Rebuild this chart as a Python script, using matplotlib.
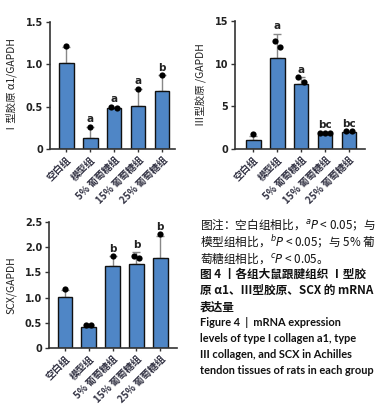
import matplotlib
matplotlib.use("Agg")
import matplotlib.pyplot as plt
import numpy as np

plt.rcParams['font.family'] = ['Noto Sans CJK SC', 'DejaVu Sans']
plt.rcParams['mathtext.fontset'] = 'dejavusans'

groups = ["空白组", "模型组", "5% 葡萄糖组", "15% 葡萄糖组", "25% 葡萄糖组"]

col1_mean = [1.01, 0.13, 0.48, 0.51, 0.68]
col1_err = [0.20, 0.13, 0.02, 0.20, 0.19]
col1_pts = [[1.22], [0.26], [0.50, 0.49], [0.71], [0.87]]
col1_sig = ["", "a", "a", "a", "b"]

col3_mean = [1.1, 10.7, 7.6, 1.8, 2.0]
col3_err = [0.45, 2.8, 0.8, 0.1, 0.1]
col3_pts = [[1.7], [12.7, 12.0], [8.4, 7.9], [1.9, 1.9, 1.9], [2.1, 2.1]]
col3_sig = ["", "a", "a", "bc", "bc"]

scx_mean = [1.01, 0.42, 1.63, 1.66, 1.78]
scx_err = [0.14, 0.03, 0.20, 0.24, 0.44]
scx_pts = [[1.18], [0.46, 0.46], [1.83], [1.82, 1.79], [2.27]]
scx_sig = ["", "", "b", "b", "b"]

W, H = 385, 417
fig = plt.figure(figsize=(W / 100, H / 100), dpi=100)

bar_color = "#4f86c6"
dark = "#222222"


def panel(rect, means, errs, pts, sigs, ylim, yticks, yticklabels, ylabel, xlim, sig_pad):
    ax = fig.add_axes(rect)
    x = np.arange(len(means))
    ax.bar(x, means, width=0.62, color=bar_color, edgecolor="#111111", linewidth=1.0, zorder=2)
    ax.errorbar(x, means, yerr=[np.zeros(len(errs)), errs], fmt="none", ecolor="#888888",
                elinewidth=1.0, capsize=3, capthick=1.0, zorder=1)
    for i, p in enumerate(pts):
        n = len(p)
        offs = (np.arange(n) - (n - 1) / 2) * 0.22
        ax.scatter(i + offs, p, s=20, color="black", zorder=3, linewidths=0)
    for i, s in enumerate(sigs):
        if s:
            top = max(means[i] + errs[i], max(pts[i]))
            ax.text(i, top + sig_pad, s, ha="center", va="bottom", fontsize=7.5,
                    fontweight="bold", color=dark, family=['DejaVu Sans'])
    ax.set_xlim(*xlim)
    ax.set_ylim(*ylim)
    ax.set_yticks(yticks)
    ax.set_yticklabels(yticklabels, fontsize=7, fontweight="bold", color=dark,
                       family=['DejaVu Sans'])
    ax.set_xticks(x)
    ax.set_xticklabels(groups, rotation=45, ha="right", rotation_mode="anchor",
                       fontsize=7, color="#333344", fontweight="bold")
    for s in ["top", "right"]:
        ax.spines[s].set_visible(False)
    for s in ["left", "bottom"]:
        ax.spines[s].set_linewidth(1.2)
        ax.spines[s].set_color("#333333")
    ax.tick_params(axis="both", direction="out", length=3, width=1.0, color="#333333", pad=2)
    ax.tick_params(axis="x", length=2.5)
    ax.set_ylabel(ylabel, fontsize=7.5, color=dark, labelpad=6)
    ax.patch.set_alpha(0)
    return ax


def rect(l, r, b, t):
    return [l / W, 1 - b / H, (r - l) / W, (b - t) / H]


panel(rect(50, 175, 149, 22), col1_mean, col1_err, col1_pts, col1_sig,
      (0, 1.5), [0, 0.5, 1.0, 1.5], ["0", "0.5", "1.0", "1.5"],
      "Ⅰ型胶原 α1/GAPDH", (-0.67, 4.54), 0.03)
panel(rect(235, 365, 149, 21), col3_mean, col3_err, col3_pts, col3_sig,
      (0, 15), [0, 5, 10, 15], ["0", "5", "10", "15"],
      "Ⅲ型胶原 /GAPDH", (-0.76, 4.67), 0.3)
panel(rect(49, 177, 348, 222), scx_mean, scx_err, scx_pts, scx_sig,
      (0, 2.5), [0, 0.5, 1.0, 1.5, 2.0, 2.5], ["0", "0.5", "1.0", "1.5", "2.0", "2.5"],
      "SCX/GAPDH", (-0.67, 4.7), 0.04)

lines = [
    (r"图注：空白组相比，$^{a}\mathit{P}$ < 0.05；与", 225, False, "cjk"),
    (r"模型组相比，$^{b}\mathit{P}$ < 0.05；与 5% 葡", 242, False, "cjk"),
    (r"萄糖组相比，$^{c}\mathit{P}$ < 0.05。", 258, False, "cjk"),
    ("图 4 丨各组大鼠跟腱组织 Ⅰ型胶", 274, True, "cjk"),
    ("原 α1、Ⅲ型胶原、SCX 的 mRNA", 290, True, "cjk"),
    ("表达量", 307, True, "cjk"),
    ("Figure 4  |  mRNA expression", 323, True, "en"),
    ("levels of type I collagen a1, type", 339, True, "en"),
    ("III collagen, and SCX in Achilles", 355, True, "en"),
    ("tendon tissues of rats in each group", 371, True, "en"),
]
for txt, y, bold, kind in lines:
    if kind == "cjk":
        fam = ['Noto Sans CJK SC', 'DejaVu Sans']
        fs = 8.4
    else:
        fam = ['Lato', 'DejaVu Sans']
        fs = 7.9
    fig.text(200 / W, 1 - y / H, txt, ha="left", va="center", fontsize=fs,
             fontweight="bold" if bold else "normal", color="#111111", family=fam)

fig.savefig("out.png", dpi=100)
